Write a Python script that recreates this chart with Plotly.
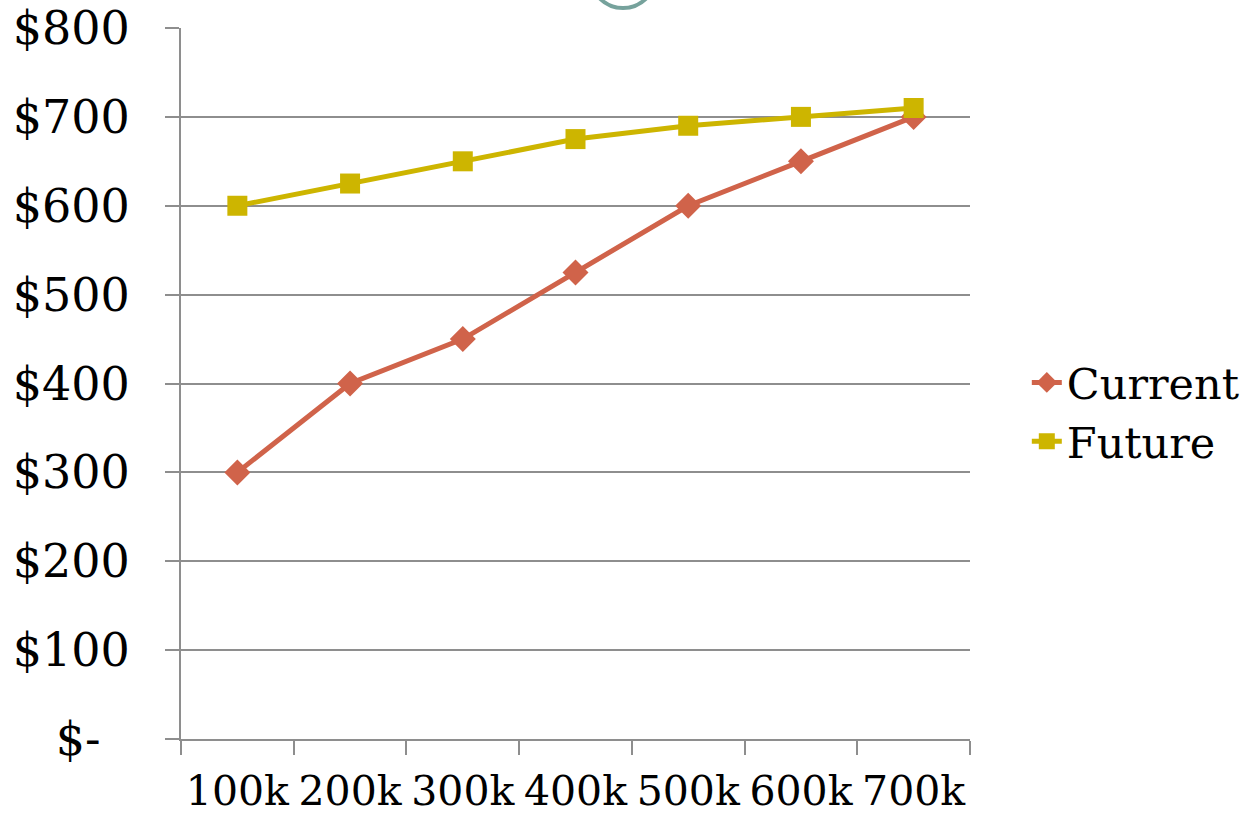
import plotly.graph_objects as go

# Price per household size bracket
categories = ["100k", "200k", "300k", "400k", "500k", "600k", "700k"]
current = [300, 400, 450, 525, 600, 650, 700]
future = [600, 625, 650, 675, 690, 700, 710]

y_ticks = [0, 100, 200, 300, 400, 500, 600, 700, 800]
y_tick_text = ["$-\u00a0\u00a0", "$100", "$200", "$300", "$400", "$500", "$600", "$700", "$800"]

W, H = 1241, 819
L, R, T, B = 181, 271, 28, 80

FONT = "DejaVu Serif"
AXIS_GREY = "#8e8e8e"

fig = go.Figure()
fig.add_trace(go.Scatter(
    x=categories, y=current, name="Current", mode="lines+markers",
    line=dict(color="#d0634a", width=5),
    marker=dict(symbol="diamond", size=20, color="#d0634a"),
))
fig.add_trace(go.Scatter(
    x=categories, y=future, name="Future", mode="lines+markers",
    line=dict(color="#cdb500", width=5),
    marker=dict(symbol="square", size=20, color="#cdb500"),
))

# decorative ring peeking in at the top edge
pw, ph = W - L - R, H - T - B
def px_x(v):
    return (v - L) / pw
def px_y(v):
    return (H - B - v) / ph

fig.add_shape(
    type="circle", xref="paper", yref="paper",
    x0=px_x(590), x1=px_x(656), y0=px_y(8), y1=px_y(-58),
    line=dict(color="#76a29c", width=4), fillcolor="rgba(0,0,0,0)",
    layer="below",
)

fig.update_layout(
    width=W, height=H,
    margin=dict(l=L, r=R, t=T, b=B, autoexpand=False),
    paper_bgcolor="white", plot_bgcolor="white",
    font=dict(family=FONT, color="black", size=46),
    showlegend=True,
    legend=dict(
        x=1.072, xanchor="left", y=0.46, yanchor="middle",
        font=dict(family=FONT, size=43), tracegroupgap=0,
        bgcolor="rgba(0,0,0,0)", itemwidth=30,
    ),
    xaxis=dict(
        type="category", tickson="boundaries", ticks="outside", ticklen=14,
        tickwidth=2, tickcolor=AXIS_GREY, showline=True, linecolor=AXIS_GREY,
        linewidth=2, showgrid=False, mirror=False, automargin=False,
        tickangle=0,
        tickfont=dict(family=FONT, size=41), ticklabelstandoff=15,
        range=[-0.5, 6.5],
    ),
    yaxis=dict(
        range=[0, 800], tickvals=y_ticks, ticktext=y_tick_text,
        ticks="outside", ticklen=14, tickwidth=2, tickcolor=AXIS_GREY,
        showline=True, linecolor=AXIS_GREY, linewidth=2, automargin=False,
        showgrid=True, gridcolor=AXIS_GREY, gridwidth=2, zeroline=False,
        tickfont=dict(family=FONT, size=46), ticklabelstandoff=26,
    ),
)

fig.write_html("out.html")
